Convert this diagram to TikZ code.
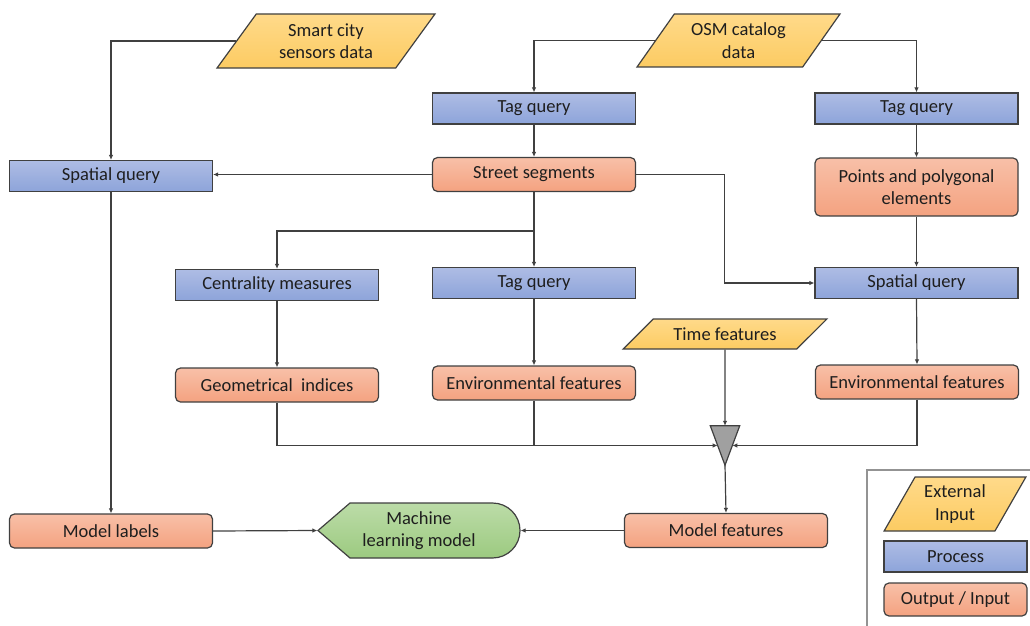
\documentclass[tikz,border=0pt]{standalone}
\usepackage{fontspec}
\setmainfont{Carlito}
\usetikzlibrary{shapes.geometric,arrows.meta,calc}
\definecolor{lineC}{HTML}{404040}
\definecolor{blueT}{HTML}{AEBCE4}
\definecolor{blueB}{HTML}{8DA4DA}
\definecolor{orT}{HTML}{F8C0A8}
\definecolor{orB}{HTML}{F4A280}
\definecolor{yeT}{HTML}{FFDA8A}
\definecolor{yeB}{HTML}{FCCB62}
\definecolor{grT}{HTML}{BCDCA8}
\definecolor{grB}{HTML}{9CCA80}
\definecolor{triC}{HTML}{A0A0A0}
\definecolor{txtC}{HTML}{1E1E1E}
\begin{document}
\begin{tikzpicture}[x=1pt,y=-1pt,
 base/.style={draw=lineC, line width=1.2pt, font=\fontsize{18.5}{22.5}\selectfont, text=txtC, align=center, inner sep=2pt},
 proc/.style={base, rectangle, top color=blueT, bottom color=blueB, minimum width=203pt, minimum height=31pt},
 outp/.style={base, rectangle, rounded corners=5pt, top color=orT, bottom color=orB, minimum width=203pt, minimum height=34pt},
 extin/.style 2 args={base, trapezium, trapezium left angle=#1, trapezium right angle=#2, trapezium stretches=true, top color=yeT, bottom color=yeB},
 arr/.style={draw=lineC, line width=1.2pt, -{Latex[length=5pt,width=4.5pt]}},
 ln/.style={draw=lineC, line width=1.2pt}]
\useasboundingbox (0,0) rectangle (1030,626);

% inputs
\node[extin={55}{125}, minimum width=218pt, minimum height=54pt] (sc) at (326,41) {Smart city\\sensors data};
\node[extin={54}{126}, minimum width=203pt, minimum height=53pt] (osm) at (738.5,40.5) {OSM catalog\\data};
\node[extin={37}{143}, minimum width=204pt, minimum height=30pt] (time) at (725,334) {Time features};

% processes
\node[proc] (splq) at (111,176) {Spatial query};
\node[proc] (tq1) at (534,108.5) {Tag query};
\node[proc] (tq2) at (916.5,108.5) {Tag query};
\node[proc] (spq2) at (916.5,283) {Spatial query};
\node[proc] (cm) at (277,285) {Centrality measures};
\node[proc] (tq3) at (534,283) {Tag query};

% outputs
\node[outp] (ss) at (534,174.5) {Street segments};
\node[outp, minimum height=58pt] (pp) at (916.5,187) {Points and polygonal\\elements};
\node[outp] (gi) at (277,385) {Geometrical~ indices};
\node[outp] (ef1) at (534,383) {Environmental features};
\node[outp] (ef2) at (917,382) {Environmental features};
\node[outp] (mf) at (726,530.5) {Model features};
\node[outp] (mlab) at (111,531) {Model labels};

% merge triangle
\node[minimum width=29pt, minimum height=39pt, inner sep=0pt] (tri) at (725,445.5) {};
\draw[ln, fill=triC] (tri.north west) -- (tri.north east) -- (tri.south) -- cycle;
\coordinate (tl) at ($(tri.north west)!0.5!(tri.south)$);
\coordinate (tr) at ($(tri.north east)!0.5!(tri.south)$);

% machine learning model
\draw[ln, top color=grT, bottom color=grB] (318,530.5) -- (350,503) -- (492.5,503)
  .. controls (507.7,503) and (520,515.3) .. (520,530.5)
  .. controls (520,545.7) and (507.7,558) .. (492.5,558) -- (350,558) -- cycle;
\node[base, draw=none, minimum width=202pt, minimum height=55pt] (ml) at (419,530.5) {Machine\\learning model};

% connectors
\draw[arr] (sc.west) -| (splq.north);
\draw[arr] (osm.west) -| (tq1.north);
\draw[arr] (osm.east) -| (tq2.north);
\draw[arr] (tq1.south) -- (ss.north);
\draw[arr] (ss.west) -- (ss.west -| splq.east);
\draw[arr] (ss.east) -- ++(88,0) |- (spq2.west);
\draw[arr] (tq2.south) -- (pp.north);
\draw[arr] (pp.south) -- (spq2.north);
\draw[arr] (ss.south) -- (tq3.north);
\coordinate (br) at (534,231);
\draw[arr] (br) -| (cm.north);
\draw[arr] (cm.south) -- (gi.north);
\draw[arr] (tq3.south) -- (ef1.north);
\draw[arr] (spq2.south) -- (ef2.north);
\draw[arr] (time.south) -- (tri.north);
\draw[arr] (gi.south) |- (tl);
\draw[ln] (ef1.south) -- (ef1.south |- tl);
\draw[arr] (ef2.south) |- (tr);
\draw[arr] (tri.south) -- (mf.north);
\draw[arr] (splq.south) -- (mlab.north);
\draw[arr] (mlab.east) -- (ml.west);
\draw[arr] (mf.west) -- (ml.east);

% legend
\draw[draw=gray!85, line width=1.2pt] (867,626) -- (867,470) -- (1030,470);
\node[extin={59}{121}, minimum width=142pt, minimum height=54pt] (lext) at (955,504) {External\\Input};
\node[proc, minimum width=143pt] (lproc) at (955.5,556.5) {Process};
\node[outp, minimum width=143pt, minimum height=33pt] (lout) at (955.5,599.5) {Output / Input};
\end{tikzpicture}
\end{document}
